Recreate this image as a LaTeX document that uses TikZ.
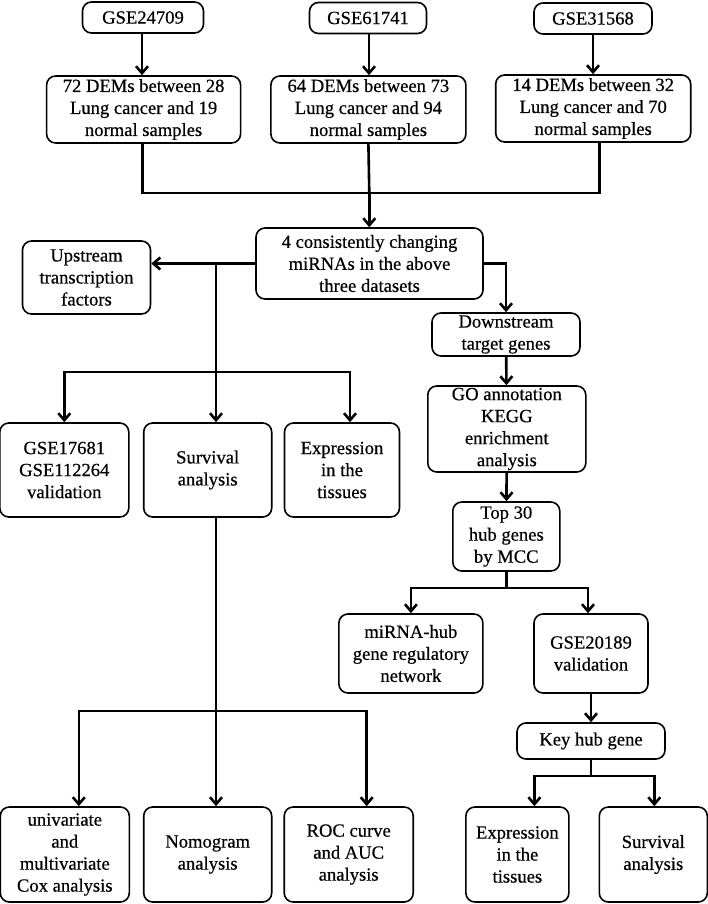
\documentclass[tikz,border=0pt]{standalone}
\usepackage{fontspec}
\setmainfont{Liberation Serif}
\newfontfamily\boxfont{Liberation Serif}[FakeBold=0.5]
\usetikzlibrary{arrows.meta}
\begin{document}
\begin{tikzpicture}[x=1pt,y=-1pt,
  box/.style={draw, line width=1.6pt, rounded corners=9pt, align=center, inner sep=0pt,
    font=\boxfont\fontsize{18.6}{22}\selectfont},
  ln/.style={line width=2.6pt},
  arr/.style={line width=2.6pt, -{Straight Barb[length=7pt,width=12pt]}}]
\useasboundingbox (0,0) rectangle (708,904);
% top row
\node[box, minimum width=121pt, minimum height=31pt] (g1) at (143,17.5) {GSE24709};
\node[box, minimum width=117pt, minimum height=31pt] (g2) at (368,18) {GSE61741};
\node[box, minimum width=118pt, minimum height=31pt] (g3) at (593,18.5) {GSE31568};
\node[box, minimum width=194pt, minimum height=67pt] (d1) at (143.6,109.5) {72 DEMs between 28\\Lung cancer and 19\\normal samples};
\node[box, minimum width=195pt, minimum height=67pt] (d2) at (368.4,109.5) {64 DEMs between 73\\Lung cancer and 94\\normal samples};
\node[box, minimum width=195pt, minimum height=67pt] (d3) at (593.2,108.5) {14 DEMs between 32\\Lung cancer and 70\\normal samples};
% middle
\node[box, minimum width=227pt, minimum height=71pt] (mi) at (369.5,263.5) {4 consistently changing\\miRNAs in the above\\three datasets};
\node[box, minimum width=128pt, minimum height=73pt] (up) at (86.5,277.5) {Upstream\\transcription\\factors};
\node[box, minimum width=148pt, minimum height=43pt] (ds) at (506,334.5) {Downstream\\target genes};
\node[box, minimum width=158pt, minimum height=86pt] (go) at (506.8,429) {GO annotation\\KEGG\\enrichment\\analysis};
\node[box, minimum width=129pt, minimum height=94pt] (v1) at (64.3,470) {GSE17681\\GSE112264\\validation};
\node[box, minimum width=128pt, minimum height=94pt] (s1) at (207.7,470) {Survival\\analysis};
\node[box, minimum width=115pt, minimum height=94pt] (e1) at (342,470) {Expression\\in the\\tissues};
\node[box, minimum width=107pt, minimum height=69pt] (tp) at (506.3,536.5) {Top 30\\hub genes\\by MCC};
\node[box, minimum width=144pt, minimum height=79pt] (hb) at (410.9,653.5) {miRNA-hub\\gene regulatory\\network};
\node[box, minimum width=114pt, minimum height=79pt] (g20) at (591,653.5) {GSE20189\\validation};
\node[box, minimum width=148pt, minimum height=36pt] (key) at (591,741) {Key hub gene};
% bottom
\node[box, minimum width=129pt, minimum height=95pt] (uni) at (64.8,854.5) {univariate\\and\\multivariate\\Cox analysis};
\node[box, minimum width=128pt, minimum height=95pt] (nom) at (207.7,854.5) {Nomogram\\analysis};
\node[box, minimum width=129pt, minimum height=95pt] (roc) at (348.7,854.5) {ROC curve\\and AUC\\analysis};
\node[box, minimum width=103pt, minimum height=95pt] (e2) at (517.4,854.5) {Expression\\in the\\tissues};
\node[box, minimum width=108pt, minimum height=95pt] (s2) at (653.3,854.5) {Survival\\analysis};
% coordinates
\coordinate (m) at (369.3,193);
\coordinate (v) at (216,263.5);
\coordinate (b) at (216,372);
\coordinate (t) at (506.3,588);
\coordinate (sb) at (216,711);
\coordinate (kb) at (591,776);
% connectors top
\draw[arr] ([xshift=-1pt]g1.south) -- ([xshift=-1pt]g1.south |- d1.north);
\draw[arr] ([xshift=1pt]g2.south) -- ([xshift=1pt]g2.south |- d2.north);
\draw[arr] (g3.south) -- (g3.south |- d3.north);
\draw[ln] ([xshift=-1.4pt]d1.south) |- (m) -| ([xshift=6pt]d3.south);
\draw[ln] (d2.south) -- (m);
\draw[arr] (m) -- (m |- mi.north);
% middle
\draw[arr] (mi.west) -- (mi.west -| up.east);
\draw[ln] (v) -- (b);
\draw[arr] (b) -- (b |- s1.north);
\draw[arr] (b) -| (v1.north);
\draw[arr] (b) -| ([xshift=8pt]e1.north);
\draw[arr] (mi.east) -| (ds.north);
\draw[arr] (ds) -- (go);
\draw[arr] (go) -- (tp);
\draw[ln] (tp.south) -- (t);
\draw[arr] (t) -| (hb.north);
\draw[arr] (t) -| ([xshift=-3pt]g20.north);
\draw[arr] (g20) -- (key);
% bottom
\draw[ln] (b |- s1.south) -- (sb);
\draw[arr] (sb) -- (sb |- nom.north);
\draw[arr] (sb) -| ([xshift=14pt]uni.north);
\draw[arr] (sb) -| ([xshift=18pt]roc.north);
\draw[ln] (key.south) -- (kb);
\draw[arr] (kb) -| ([xshift=17pt]e2.north);
\draw[arr] (kb) -| ([xshift=1pt]s2.north);
\end{tikzpicture}
\end{document}
